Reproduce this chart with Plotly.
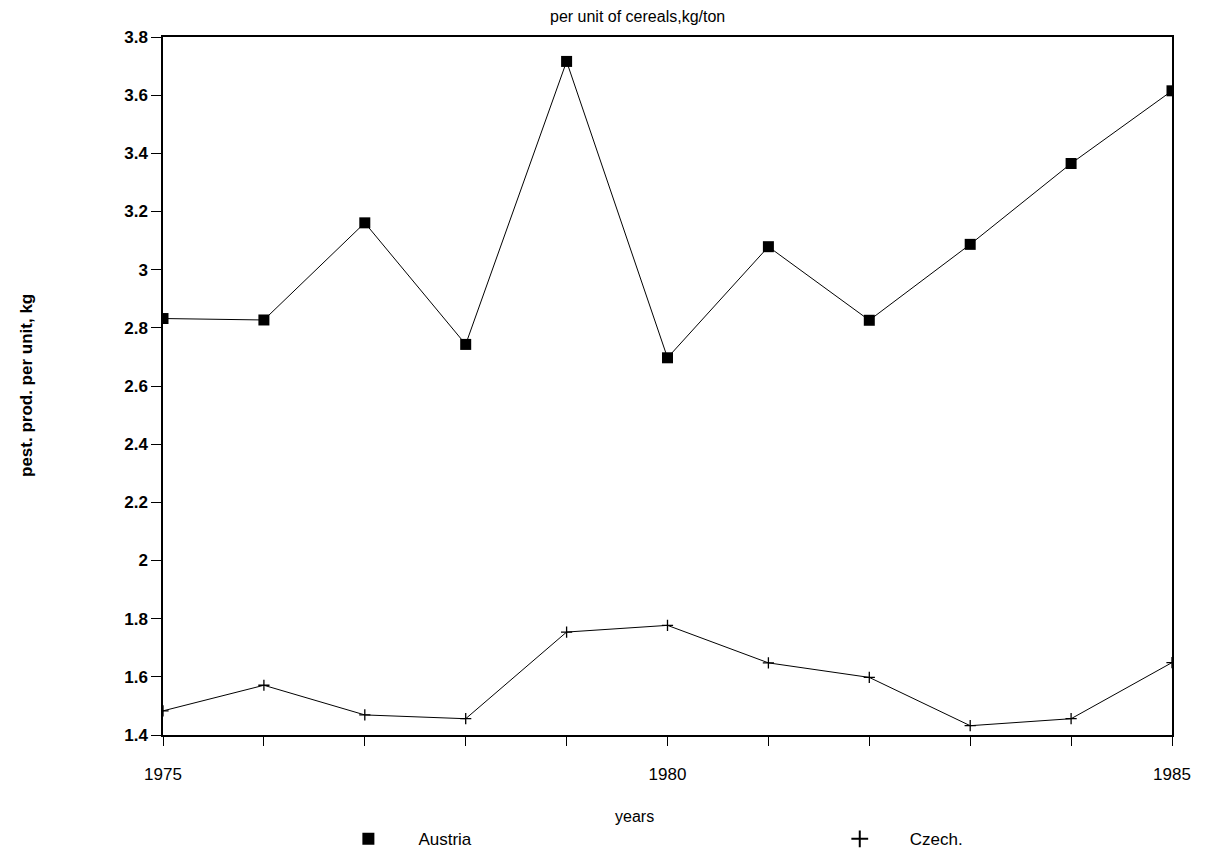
import plotly.graph_objects as go

years = [1975, 1976, 1977, 1978, 1979, 1980, 1981, 1982, 1983, 1984, 1985]
austria = [2.832, 2.827, 3.161, 2.743, 3.716, 2.697, 3.079, 2.826, 3.087, 3.365, 3.615]
czech = [1.483, 1.571, 1.469, 1.456, 1.754, 1.777, 1.648, 1.598, 1.432, 1.456, 1.649]
x_tick_vals = years
x_tick_text = ["1975", "", "", "", "", "1980", "", "", "", "", "1985"]
y_tick_vals = [1.4, 1.6, 1.8, 2.0, 2.2, 2.4, 2.6, 2.8, 3.0, 3.2, 3.4, 3.6, 3.8]
y_tick_text = ["1.4", "1.6", "1.8", "2", "2.2", "2.4", "2.6", "2.8", "3", "3.2", "3.4", "3.6", "3.8"]

FONT = "Liberation Sans, Arial, sans-serif"

fig = go.Figure()
# lines
fig.add_trace(go.Scatter(x=years, y=austria, mode="lines", line=dict(color="black", width=1),
                         showlegend=False, hoverinfo="skip"))
fig.add_trace(go.Scatter(x=years, y=czech, mode="lines", line=dict(color="black", width=1),
                         showlegend=False, hoverinfo="skip"))
# markers (legend entries)
fig.add_trace(go.Scatter(x=years, y=austria, mode="markers", name="Austria", legend="legend",
                         marker=dict(symbol="square", size=11, color="black")))
fig.add_trace(go.Scatter(x=years, y=czech, mode="markers", name="Czech.", legend="legend2",
                         marker=dict(symbol="cross-thin", size=8, color="black",
                                     line=dict(color="black", width=1.3))))

leg_common = dict(orientation="h", xanchor="left", yref="container", y=0.03, yanchor="middle",
                  itemwidth=90, font=dict(size=17, family=FONT), itemsizing="constant",
                  bgcolor="rgba(0,0,0,0)")

fig.update_layout(
    width=1208, height=857,
    paper_bgcolor="white", plot_bgcolor="white",
    margin=dict(l=155, r=44, t=29, b=130),
    font=dict(family=FONT, color="black", size=16),
    showlegend=True,
    legend=dict(x=0.154, **leg_common),
    legend2=dict(x=0.641, **leg_common),
    xaxis=dict(range=[1975, 1985], tickmode="array", tickvals=x_tick_vals, ticktext=x_tick_text,
               ticks="outside", ticklen=9, tickwidth=1, tickcolor="black",
               showline=True, linecolor="black", linewidth=2, mirror=True,
               showgrid=False, zeroline=False, ticklabelstandoff=14,
               tickfont=dict(size=17, family=FONT)),
    yaxis=dict(range=[1.4, 3.8], tickmode="array", tickvals=y_tick_vals, ticktext=y_tick_text,
               ticks="outside", ticklen=10, tickwidth=1, tickcolor="black",
               showline=True, linecolor="black", linewidth=1.5, mirror=True,
               showgrid=False, zeroline=False,
               tickfont=dict(size=17, family=FONT, weight="bold")),
    annotations=[
        dict(text="per unit of cereals,kg/ton", xref="paper", yref="paper", x=0.47, y=1.0,
             xanchor="center", yanchor="bottom", yshift=10, showarrow=False,
             font=dict(size=16, family=FONT)),
        dict(text="years", xref="paper", yref="paper", x=0.4676, y=0, xanchor="center",
             yanchor="middle", yshift=-81, showarrow=False, font=dict(size=16, family=FONT)),
        dict(text="pest. prod. per unit, kg", xref="paper", yref="paper", x=0, y=0.5,
             xanchor="center", yanchor="middle", xshift=-137, textangle=-90, showarrow=False,
             font=dict(size=17, family=FONT, weight="bold")),
    ],
)

fig.write_html("out.html")
